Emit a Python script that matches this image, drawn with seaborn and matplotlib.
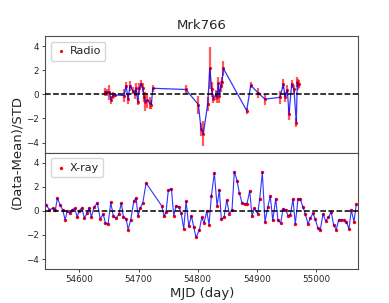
import numpy as np
import pandas as pd
import matplotlib
matplotlib.use("Agg")
import matplotlib.pyplot as plt
import seaborn as sns

# Radio light curve (normalised)
radio_mjd = [54643.4, 54647.3, 54650.7, 54653.5, 54656.4, 54659.8, 54675.5, 54678.9,
             54682.3, 54685.6, 54690.2, 54693.6, 54695.8, 54698.6, 54701.3, 54704.2,
             54707.1, 54709.3, 54711.5, 54714.9, 54719.4, 54721.6, 54724.0, 54779.7,
             54801.0, 54805.6, 54809.4, 54816.9, 54820.3, 54823.6, 54826.3, 54830.4,
             54832.6, 54834.8, 54836.5, 54838.8, 54841.0, 54843.2, 54882.7, 54889.5,
             54902.3, 54913.6, 54939.0, 54944.6, 54947.4, 54951.3, 54954.2, 54958.7,
             54962.6, 54966.5, 54968.2, 54969.9, 54971.6]
radio_val = [0.20, 0.15, 0.15, -0.45, -0.10, -0.05, -0.10, 0.70,
             -0.40, 0.70, 0.30, 0.00, 0.50, -0.60, 0.50, 0.85,
             0.55, -0.20, -0.60, -0.50, -0.75, -0.85, 0.50, 0.40,
             -0.85, -2.90, -3.25, -0.80, 2.15, 0.40, -0.35, -0.05,
             -0.20, 0.90, -0.15, 0.65, 1.05, 2.15, -1.35, 0.75,
             0.10, -0.40, -0.25, 0.85, -0.20, 0.35, -1.65, 0.85,
             0.40, -2.35, 1.00, 0.80, 0.85]
radio_err = [0.30, 0.25, 0.65, 0.35, 0.25, 0.15, 0.55, 0.30,
             0.40, 0.40, 0.30, 0.35, 0.40, 0.30, 0.45, 0.30,
             0.40, 0.40, 0.80, 0.60, 0.50, 0.40, 0.30, 0.35,
             0.75, 0.55, 1.00, 0.55, 1.75, 0.60, 0.40, 0.40,
             0.50, 0.50, 0.60, 0.45, 0.40, 0.60, 0.25, 0.25,
             0.40, 0.45, 0.55, 0.40, 0.40, 0.45, 0.50, 0.35,
             0.40, 0.40, 0.40, 0.45, 0.35]

# X-ray light curve (normalised)
xray_mjd = [54543.8, 54549.3, 54555.1, 54559.5, 54562.8, 54567.4, 54572.0, 54575.8,
            54579.7, 54584.3, 54588.2, 54592.2, 54596.1, 54600.0, 54604.1, 54608.4,
            54613.0, 54616.4, 54620.3, 54624.8, 54630.4, 54635.0, 54640.5, 54643.9,
            54648.5, 54653.0, 54657.4, 54662.0, 54666.5, 54670.9, 54674.3, 54678.9,
            54682.3, 54686.8, 54691.9, 54695.8, 54699.1, 54702.5, 54707.1, 54712.7,
            54739.2, 54743.1, 54746.4, 54750.3, 54755.4, 54759.4, 54763.3, 54767.9,
            54771.8, 54776.3, 54780.2, 54784.8, 54789.2, 54793.2, 54797.1, 54802.7,
            54806.7, 54810.6, 54815.2, 54819.1, 54822.9, 54828.0, 54832.6, 54836.5,
            54839.8, 54844.4, 54849.0, 54853.4, 54857.9, 54861.8, 54866.4, 54870.2,
            54874.8, 54879.4, 54883.2, 54887.8, 54891.7, 54895.6, 54901.3, 54904.7,
            54909.1, 54913.6, 54918.2, 54922.6, 54926.7, 54931.7, 54935.6, 54940.2,
            54944.0, 54948.6, 54952.5, 54956.4, 54960.9, 54964.8, 54969.4, 54973.3,
            54977.8, 54981.7, 54986.3, 54990.2, 54994.7, 54998.6, 55002.7, 55007.0,
            55011.6, 55016.2, 55020.6, 55025.6, 55029.7, 55034.1, 55038.1, 55042.0,
            55046.6, 55051.0, 55055.5, 55059.4, 55064.0, 55067.9]
xray_val = [0.50, 0.10, 0.20, 0.10, 1.05, 0.50, 0.05, -0.75,
            0.00, -0.20, 0.10, 0.20, -0.50, 0.00, 0.25, -0.60,
            -0.20, 0.25, -0.50, 0.30, 0.65, -0.65, -0.30, -1.05,
            -1.10, 0.70, -0.45, -0.60, -0.30, 0.65, -0.50, -0.65,
            -1.55, -0.75, 0.80, 1.05, -0.45, 0.20, 0.65, 2.30,
            0.40, -0.45, -0.10, 1.70, 1.85, -0.40, 0.40, 0.35,
            -0.15, -1.50, 0.80, -1.30, -0.40, -1.35, -2.20, -1.60,
            -0.55, -1.00, -0.05, -1.15, 1.20, 3.15, 0.40, 1.75,
            -0.70, -0.55, 0.90, -0.25, 0.10, 3.25, 2.50, 1.50,
            0.65, 0.55, 0.60, 1.65, -0.45, 0.20, -0.25, 1.00,
            3.20, -0.95, 0.30, 1.20, -0.80, 1.00, -0.80, -1.00,
            0.15, 0.10, -0.40, -0.35, 1.00, -1.10, 1.00, 0.95,
            0.30, -0.25, -1.10, -0.60, -0.20, -0.70, -1.40, -1.60,
            -0.25, -0.85, -0.55, -0.10, -1.20, -1.55, -0.75, -0.75,
            -0.75, -0.90, -1.50, 0.05, -0.90, 0.55]

sns.set_style("ticks")
plt.rcParams['font.family'] = ['DejaVu Sans']

fig, (ax1, ax2) = plt.subplots(2, 1, sharex=True, figsize=(3.89, 3.03), dpi=100)
fig.subplots_adjust(left=0.116, right=0.921, top=0.881, bottom=0.112, hspace=0)

# top: radio
ax1.errorbar(radio_mjd, radio_val, yerr=radio_err, fmt='none', ecolor='red',
             elinewidth=1.6, alpha=0.65, zorder=1)
sns.scatterplot(x=radio_mjd, y=radio_val, ax=ax1, color='red', s=5,
                linewidth=0, label='Radio', zorder=2)
sns.lineplot(x=radio_mjd, y=radio_val, ax=ax1, color='blue', lw=0.9, alpha=0.8,
             sort=False, estimator=None, zorder=3)

# bottom: X-ray
sns.scatterplot(x=xray_mjd, y=xray_val, ax=ax2, color='red', s=6,
                linewidth=0, label='X-ray', zorder=2)
sns.lineplot(x=xray_mjd, y=xray_val, ax=ax2, color='blue', lw=0.8, alpha=0.8,
             sort=False, estimator=None, zorder=3)

for ax in (ax1, ax2):
    ax.axhline(0, color='black', ls='--', lw=1.1, zorder=4)
    ax.set_ylim(-4.83, 4.83)
    ax.set_yticks([-4, -2, 0, 2, 4])
    ax.tick_params(labelsize=6.3, length=2.5, width=0.6, pad=2)
    for s in ax.spines.values():
        s.set_color('0.3')
        s.set_linewidth(0.8)
    ax.legend(loc='upper left', fontsize=8, markerscale=1.0, handletextpad=0.3,
              borderpad=0.4, handlelength=1.0, borderaxespad=0.5)
    ax.set_ylabel('')

ax2.set_xlim(54542.1, 55071.2)
ax2.set_xticks([54600, 54700, 54800, 54900, 55000])
ax2.set_xlabel('MJD (day)', fontsize=9.5, labelpad=2)
ax1.set_title('Mrk766', fontsize=9.5, pad=5)
fig.text(0.044, 0.497, '(Data-Mean)/STD', rotation=90, fontsize=9.5,
         ha='center', va='center')

fig.savefig('out.png', dpi=100)
